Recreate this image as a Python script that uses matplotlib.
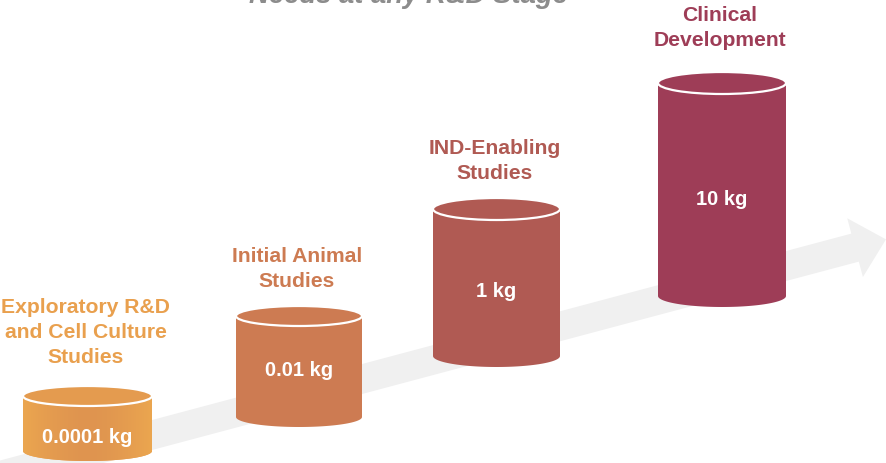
import numpy as np
import matplotlib.pyplot as plt
from matplotlib.patches import Polygon, Ellipse
from matplotlib.colors import to_rgb

# stages and quantity of material needed at each one
stages = ["Exploratory R&D\nand Cell Culture\nStudies",
          "Initial Animal\nStudies",
          "IND-Enabling\nStudies",
          "Clinical\nDevelopment"]
amounts_kg = [0.0001, 0.01, 1, 10]
colores = ["#E9A04E", "#CD7B52", "#B05A53", "#9E3D57"]
titulo = "Needs at any R&D Stage"

# layout in pixel units (x left/right, y of top and bottom rims)
izq = [23, 236, 433, 658]
der = [152, 362, 560, 786]
y_tapa = [397, 317, 210, 84]
y_base = [452, 418, 357, 297]
radio_y = [10, 10, 11, 11]
y_texto = [333, 269, 161, 28]
y_valor = [438, 371, 292, 200]

ANCHO, ALTO = 886, 464
fig = plt.figure(figsize=(ANCHO / 100, ALTO / 100), dpi=100)
ax = fig.add_axes([0, 0, 1, 1])
ax.set_xlim(0, ANCHO)
ax.set_ylim(ALTO, 0)
ax.axis("off")

plt.rcParams["font.family"] = ["Liberation Sans", "DejaVu Sans"]

# flecha gris de fondo
punta = np.array([886.0, 240.4])
d = np.array([1.0, -0.2665])
d = d / np.linalg.norm(d)
n = np.array([-d[1], d[0]])
inicio = punta - d * 960
ancho_cuerpo, ancho_cabeza, largo_cabeza = 14.5, 30.4, 32
base_cabeza = punta - d * largo_cabeza
flecha = [inicio + n * ancho_cuerpo, base_cabeza + n * ancho_cuerpo,
          base_cabeza + n * ancho_cabeza, punta,
          base_cabeza - n * ancho_cabeza, base_cabeza - n * ancho_cuerpo,
          inicio - n * ancho_cuerpo]
ax.add_patch(Polygon(flecha, closed=True, facecolor="#F0F0F0", edgecolor="none", zorder=1))


def cilindro(i):
    x0, x1 = izq[i], der[i]
    cx, rx = (x0 + x1) / 2, (x1 - x0) / 2
    ry = radio_y[i]
    t = np.linspace(np.pi, 0, 60)
    arco = np.column_stack([cx + rx * np.cos(t), y_base[i] + ry * np.sin(t)])
    pts = np.vstack([[[x0, y_tapa[i]]], arco, [[x1, y_tapa[i]]]])
    cuerpo = Polygon(pts, closed=True, facecolor=colores[i], edgecolor="none", zorder=2)
    ax.add_patch(cuerpo)
    color_tapa = colores[i]
    if i == 0:
        # degradado suave: bordes mas claros, centro algo mas oscuro
        c_borde = np.array(to_rgb("#EBA650"))
        c_centro = np.array(to_rgb("#DF944F"))
        xs = np.linspace(-1, 1, 200)
        k = np.abs(xs) ** 1.5
        grad = c_centro[None, :] * (1 - k[:, None]) + c_borde[None, :] * k[:, None]
        img = ax.imshow(grad[None, :, :], extent=[x0, x1, y_base[i] + ry, y_tapa[i] - ry],
                        aspect="auto", zorder=2.5, interpolation="bilinear")
        img.set_clip_path(cuerpo)
        color_tapa = "#E49B4F"
    ax.add_patch(Ellipse((cx, y_tapa[i]), 2 * rx, 2 * ry, facecolor=color_tapa,
                         edgecolor="white", lw=1.6, zorder=3))
    ax.text(cx, y_valor[i], f"{amounts_kg[i]:g} kg", color="white", fontsize=14.5,
            fontweight="bold", ha="center", va="center", zorder=4)
    ax.text(cx - 2, y_texto[i], stages[i], color=colores[i], fontsize=15.2,
            fontweight="bold", ha="center", va="center", linespacing=1.4, zorder=4)


for i in range(len(stages)):
    cilindro(i)

ax.text(408, 3, titulo, color="#8C8C8C", fontsize=19.8, fontweight="bold",
        fontstyle="italic", ha="center", va="baseline")

fig.savefig("out.png", dpi=100)
